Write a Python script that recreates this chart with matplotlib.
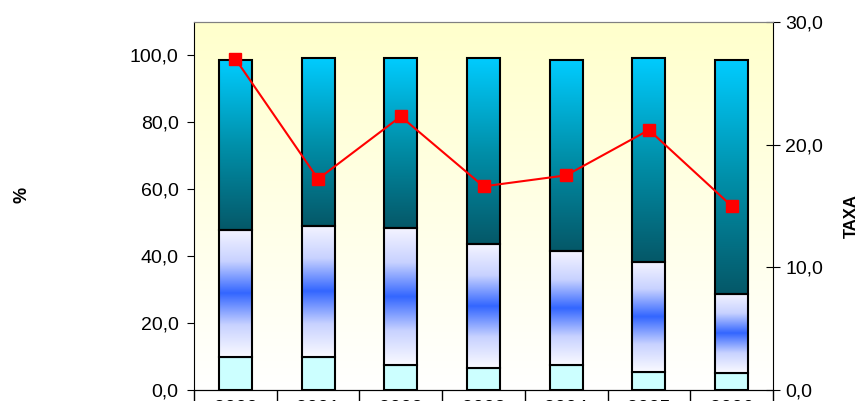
import matplotlib.pyplot as plt
import numpy as np
from matplotlib.colors import LinearSegmentedColormap

plt.rcParams['font.family'] = ['Liberation Sans', 'DejaVu Sans']

# percentages of each part (stacked), and the rate on the right axis
years = ['2000', '2001', '2002', '2003', '2004', '2005', '2006']
part_a = [9.8, 9.8, 7.5, 6.7, 7.5, 5.3, 5.0]
part_b = [38.0, 39.2, 40.9, 36.9, 34.0, 32.9, 23.8]
part_c = [50.7, 50.2, 50.8, 55.6, 57.0, 61.0, 69.7]
taxa = [27.0, 17.2, 22.3, 16.6, 17.5, 21.2, 15.0]

bg_cmap = LinearSegmentedColormap.from_list('bg', ['#FFFFFF', '#FFFFCC'])
mid_cmap = LinearSegmentedColormap.from_list(
    'mid', ['#FAFAFF', '#C8D2FF', '#3366FF', '#C8D2FF', '#F4F4FF'])
top_cmap = LinearSegmentedColormap.from_list('top', ['#055868', '#0090AA', '#00CCFF'])
grad = np.linspace(0, 1, 256).reshape(-1, 1)

fig = plt.figure(figsize=(8.68, 4.01), dpi=100)
ax = fig.add_axes([194 / 868, 1 - 390 / 401, (773 - 194) / 868, (390 - 22) / 401])

x = np.arange(len(years)) + 0.5
w = 0.40

# plot area background
ax.imshow(grad, cmap=bg_cmap, extent=(0, 7, 0, 110), origin='lower',
          aspect='auto', zorder=0)

bottoms_b = np.array(part_a)
bottoms_c = bottoms_b + np.array(part_b)
for i in range(len(years)):
    x0, x1 = x[i] - w / 2, x[i] + w / 2
    ax.bar(x[i], part_a[i], w, color='#CCFFFF', edgecolor='black', lw=1.5, zorder=2)
    ax.imshow(grad, cmap=mid_cmap, origin='lower', aspect='auto', zorder=2,
              extent=(x0, x1, bottoms_b[i], bottoms_b[i] + part_b[i]))
    ax.bar(x[i], part_b[i], w, bottom=bottoms_b[i], facecolor='none',
           edgecolor='black', lw=1.5, zorder=3)
    ax.imshow(grad, cmap=top_cmap, origin='lower', aspect='auto', zorder=2,
              extent=(x0, x1, bottoms_c[i], bottoms_c[i] + part_c[i]))
    ax.bar(x[i], part_c[i], w, bottom=bottoms_c[i], facecolor='none',
           edgecolor='black', lw=1.5, zorder=3)

ax.set_xlim(0, 7)
ax.set_ylim(0, 110)
ax.set_yticks(np.arange(0, 101, 20))
ax.set_yticklabels([f'{v:.1f}'.replace('.', ',') for v in range(0, 101, 20)])
ax.tick_params(axis='y', direction='out', length=5, labelsize=14, pad=6)

ax.set_xticks(np.arange(0, 8))
ax.set_xticklabels([])
ax.tick_params(axis='x', which='major', direction='out', length=14, width=1)
ax.set_xticks(x, minor=True)
ax.set_xticklabels(years, minor=True)
ax.tick_params(axis='x', which='minor', length=0, labelsize=14, pad=7)

ax.spines['top'].set_color('#808080')
ax.spines['right'].set_visible(False)

ax2 = ax.twinx()
ax2.plot(x, taxa, color='#FF0000', lw=1.5, marker='s', markersize=8,
         markerfacecolor='#FF0000', markeredgecolor='#FF0000', zorder=5)
ax2.set_ylim(0, 30)
ax2.set_yticks(np.arange(0, 31, 10))
ax2.set_yticklabels([f'{v:.1f}'.replace('.', ',') for v in range(0, 31, 10)])
ax2.tick_params(axis='y', direction='inout', length=10, labelsize=14, pad=4)
ax2.spines['top'].set_color('#808080')
ax2.spines['left'].set_visible(False)

# axis titles
fig.text(22 / 868, 1 - 195 / 401, '%', rotation=90, fontsize=13,
         fontweight='bold', ha='center', va='center')
fig.text(851 / 868, 1 - 216 / 401, 'TAXA', rotation=90, fontsize=12,
         fontweight='bold', ha='center', va='center')

fig.savefig('out.png', dpi=100)
